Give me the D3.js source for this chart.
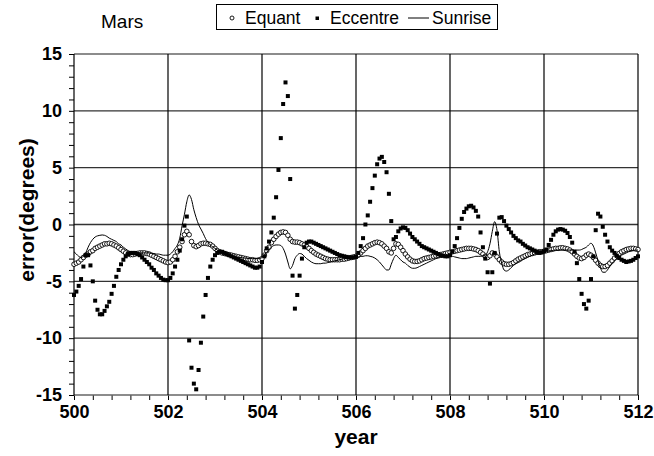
<!DOCTYPE html>
<html>
<head>
<meta charset="utf-8">
<script src="https://cdn.jsdelivr.net/npm/d3@7"></script>
<style>
  body { margin: 0; background: #fff; }
  svg { font-family: Arial, "Liberation Sans", sans-serif; }
</style>
</head>
<body>
<svg></svg>
<script>
// sampling of the three series: every 0.05 year from 500 to 512
var startYear = 500;
var stepYear = 0.05;

var equant = [
  -3.5,-3.4,-3.3,-3.1,-2.9,-2.7,-2.6,-2.4,-2.3,-2.1,-2.0,-1.9,-1.8,-1.7,-1.7,-1.65,-1.7,-1.8,-1.9,-2.05,
  -2.2,-2.35,-2.5,-2.6,-2.65,-2.65,-2.6,-2.55,-2.5,-2.5,-2.5,-2.55,-2.6,-2.7,-2.8,-2.9,-3.0,-3.1,-3.2,-3.3,
  -3.35,-3.3,-3.1,-2.8,-2.4,-2.0,-1.5,-0.9,-0.6,-0.9,-1.5,-1.85,-1.95,-1.85,-1.7,-1.65,-1.65,-1.7,-1.75,-1.9,
  -2.1,-2.3,-2.4,-2.5,-2.55,-2.6,-2.65,-2.7,-2.75,-2.8,-2.85,-2.9,-2.95,-3.0,-3.05,-3.1,-3.1,-3.15,-3.15,-3.1,
  -3.0,-2.7,-2.3,-2.0,-1.6,-1.3,-1.05,-0.85,-0.7,-0.65,-0.7,-0.95,-1.3,-1.5,-1.55,-1.55,-1.6,-1.7,-1.8,-1.95,
  -2.1,-2.3,-2.45,-2.6,-2.7,-2.8,-2.9,-3.0,-3.05,-3.1,-3.1,-3.1,-3.1,-3.1,-3.05,-3.05,-3.0,-2.95,-2.9,-2.85,
  -2.8,-2.7,-2.5,-2.3,-2.1,-1.9,-1.8,-1.7,-1.6,-1.55,-1.6,-1.7,-1.9,-2.1,-2.4,-2.5,-2.1,-1.7,-1.75,-2.0,
  -2.3,-2.6,-2.85,-3.05,-3.2,-3.25,-3.25,-3.2,-3.1,-3.0,-2.95,-2.9,-2.85,-2.8,-2.75,-2.7,-2.65,-2.6,-2.55,-2.5,
  -2.45,-2.4,-2.35,-2.3,-2.25,-2.2,-2.15,-2.1,-2.1,-2.1,-2.15,-2.2,-2.3,-2.45,-2.6,-2.8,-2.9,-2.75,-2.5,-2.6,
  -2.85,-3.1,-3.3,-3.45,-3.5,-3.5,-3.45,-3.35,-3.2,-3.05,-2.95,-2.85,-2.75,-2.65,-2.6,-2.55,-2.5,-2.45,-2.4,-2.4,
  -2.35,-2.3,-2.25,-2.2,-2.15,-2.1,-2.1,-2.05,-2.05,-2.1,-2.15,-2.25,-2.4,-2.6,-2.8,-2.95,-3.0,-2.9,-2.7,-2.6,
  -2.7,-2.9,-3.15,-3.4,-3.6,-3.7,-3.7,-3.6,-3.4,-3.2,-2.95,-2.75,-2.55,-2.4,-2.3,-2.2,-2.15,-2.1,-2.1,-2.15,
  -2.2
];

var eccentre = [
  -6.2,-5.9,-5.4,-4.8,-3.7,-2.7,-2.7,-3.6,-5.0,-6.7,-7.5,-7.9,-7.9,-7.6,-7.2,-6.8,-6.1,-5.4,-4.6,-4.0,
  -3.5,-3.1,-2.8,-2.6,-2.5,-2.5,-2.5,-2.6,-2.7,-2.9,-3.1,-3.3,-3.5,-3.8,-4.0,-4.3,-4.5,-4.7,-4.85,-4.9,
  -4.9,-4.7,-4.3,-3.7,-3.1,-2.3,-1.3,-0.1,0.7,-10.2,-12.6,-14.0,-14.5,-12.8,-10.4,-8.1,-6.2,-4.7,-3.7,-3.1,
  -2.7,-2.5,-2.4,-2.4,-2.5,-2.6,-2.7,-2.8,-2.9,-3.0,-3.1,-3.2,-3.3,-3.4,-3.5,-3.6,-3.7,-3.8,-3.8,-3.7,
  -3.3,-2.8,-2.1,-1.5,-0.7,0.6,2.4,4.8,7.6,10.6,12.5,11.3,4.0,-4.5,-7.4,-6.2,-4.5,-3.0,-2.0,-1.6,
  -1.5,-1.5,-1.6,-1.7,-1.8,-1.9,-2.0,-2.1,-2.2,-2.3,-2.4,-2.5,-2.6,-2.7,-2.75,-2.8,-2.85,-2.9,-2.9,-2.9,
  -2.85,-2.5,-1.9,-1.2,0.0,0.8,2.0,3.2,4.3,5.3,5.8,5.95,5.5,4.6,2.7,0.3,-1.3,-1.1,-0.6,-0.35,
  -0.25,-0.3,-0.5,-0.8,-1.1,-1.3,-1.5,-1.7,-1.9,-2.0,-2.1,-2.2,-2.3,-2.4,-2.5,-2.6,-2.7,-2.75,-2.8,-2.8,
  -2.7,-2.4,-1.9,-1.2,-0.3,0.5,1.1,1.4,1.6,1.65,1.5,1.2,0.7,-0.7,-2.0,-3.0,-4.2,-5.2,-4.2,-2.5,
  -0.8,0.6,0.65,0.3,-0.1,-0.4,-0.7,-1.0,-1.2,-1.4,-1.5,-1.7,-1.85,-2.0,-2.1,-2.2,-2.3,-2.4,-2.5,-2.45,
  -2.35,-2.2,-1.8,-1.35,-0.9,-0.6,-0.45,-0.4,-0.45,-0.55,-0.75,-1.1,-1.6,-2.4,-3.4,-4.8,-6.1,-7.0,-7.4,-6.7,
  -4.8,-2.8,-0.5,0.95,0.7,-0.2,-0.9,-1.5,-2.0,-2.3,-2.5,-2.75,-2.95,-3.1,-3.2,-3.3,-3.25,-3.2,-3.1,-2.95,
  -2.8
];

var sunrise = [
  -2.4,-2.6,-2.8,-2.9,-2.8,-2.5,-2.0,-1.6,-1.3,-1.1,-1.0,-0.95,-0.92,-0.95,-1.05,-1.2,-1.3,-1.4,-1.5,-1.7,
  -1.8,-2.0,-2.15,-2.3,-2.4,-2.45,-2.5,-2.5,-2.5,-2.5,-2.5,-2.5,-2.5,-2.55,-2.55,-2.6,-2.6,-2.65,-2.7,-2.7,
  -2.7,-2.6,-2.4,-2.1,-1.8,-1.2,-0.1,0.9,2.0,2.6,2.2,1.3,0.6,0.0,-0.4,-0.8,-1.25,-1.55,-1.8,-1.95,
  -2.1,-2.25,-2.4,-2.5,-2.6,-2.65,-2.7,-2.75,-2.8,-2.85,-2.9,-2.9,-2.95,-2.95,-3.0,-3.0,-3.0,-3.0,-3.0,-3.0,
  -2.9,-2.7,-2.45,-2.2,-2.0,-1.85,-1.8,-1.8,-1.85,-2.1,-2.6,-3.3,-3.9,-3.6,-3.0,-2.7,-2.55,-2.6,-2.8,-3.0,
  -3.15,-3.3,-3.4,-3.45,-3.45,-3.45,-3.4,-3.4,-3.35,-3.3,-3.25,-3.2,-3.15,-3.1,-3.05,-3.0,-3.0,-2.95,-2.95,-2.9,
  -2.9,-2.85,-2.8,-2.8,-2.75,-2.75,-2.8,-2.85,-2.95,-3.1,-3.3,-3.55,-3.8,-4.0,-4.0,-3.5,-3.0,-2.7,-2.9,-3.1,
  -3.3,-3.4,-3.6,-3.75,-3.85,-3.85,-3.8,-3.7,-3.6,-3.5,-3.4,-3.3,-3.2,-3.1,-3.0,-2.95,-2.9,-2.85,-2.8,-2.8,
  -2.8,-2.8,-2.85,-2.9,-2.95,-3.0,-3.0,-3.0,-2.95,-2.9,-2.85,-2.8,-2.8,-2.8,-2.75,-2.7,-2.4,-1.7,-0.6,0.25,
  -0.5,-2.4,-3.4,-4.0,-4.1,-4.0,-3.8,-3.6,-3.45,-3.35,-3.25,-3.1,-3.0,-2.9,-2.8,-2.7,-2.6,-2.55,-2.5,-2.45,
  -2.4,-2.4,-2.35,-2.3,-2.3,-2.25,-2.25,-2.25,-2.25,-2.25,-2.25,-2.25,-2.25,-2.25,-2.25,-2.25,-2.2,-2.1,-2.0,-1.8,
  -1.65,-1.9,-2.5,-3.2,-3.8,-4.2,-4.2,-4.0,-3.7,-3.4,-3.2,-3.0,-2.85,-2.7,-2.6,-2.5,-2.4,-2.35,-2.3,-2.25,
  -2.25
];

var xTicks = [500, 502, 504, 506, 508, 510, 512];
var yTicks = [-15, -10, -5, 0, 5, 10, 15];
var legendNames = ['Equant', 'Eccentre', 'Sunrise'];

document.addEventListener('DOMContentLoaded', () => {
    var width = 654;
    var height = 456;
    var left = 74, right = 638, top = 54, bottom = 395;

    var xScale = d3.scaleLinear().domain([500, 512]).range([left, right]);
    var yScale = d3.scaleLinear().domain([-15, 15]).range([bottom, top]);

    var yearOf = i => startYear + i * stepYear;

    var svg = d3.select('svg')
        .attr('width', width)
        .attr('height', height);

    // minor tick positions
    var xMinor = d3.range(0, 31).map(i => 500 + i * 0.4);
    var yMinor = d3.range(-15, 16, 1);

    // axes (ticks + labels only)
    var yAxis = d3.axisLeft(yScale)
        .tickValues(yMinor)
        .tickSize(5)
        .tickPadding(7)
        .tickFormat(d => yTicks.indexOf(d) >= 0 ? String(d) : '');

    var xAxis = d3.axisBottom(xScale)
        .tickValues(xMinor)
        .tickSize(5)
        .tickPadding(5)
        .tickFormat(d => {
            var r = Math.round(d);
            return (Math.abs(d - r) < 1e-6 && xTicks.indexOf(r) >= 0) ? String(r) : '';
        });

    var gy = svg.append('g')
        .attr('transform', 'translate(' + left + ',0)')
        .call(yAxis);
    var gx = svg.append('g')
        .attr('transform', 'translate(0,' + bottom + ')')
        .call(xAxis);

    [gx, gy].forEach(g => {
        g.select('.domain').remove();
        g.selectAll('.tick line').attr('stroke', '#000').attr('stroke-width', 1);
        g.selectAll('.tick text')
            .attr('fill', '#000')
            .style('font-family', 'Arial, "Liberation Sans", sans-serif')
            .style('font-weight', 'bold')
            .style('font-size', '18px');
    });

    // grid lines (also form the frame)
    svg.append('g').selectAll('line')
        .data(yTicks)
        .enter()
        .append('line')
            .attr('x1', left)
            .attr('x2', right)
            .attr('y1', d => yScale(d))
            .attr('y2', d => yScale(d))
            .attr('stroke', d => (d === 15 || d === -15) ? '#666' : '#333')
            .attr('stroke-width', 1.4);

    svg.append('g').selectAll('line')
        .data(xTicks)
        .enter()
        .append('line')
            .attr('x1', d => xScale(d))
            .attr('x2', d => xScale(d))
            .attr('y1', top)
            .attr('y2', bottom)
            .attr('stroke', '#000')
            .attr('stroke-width', 1.2);

    // Equant: open circles
    svg.append('g').selectAll('circle')
        .data(equant)
        .enter()
        .append('circle')
            .attr('cx', (d, i) => xScale(yearOf(i)))
            .attr('cy', d => yScale(d))
            .attr('r', 2.3)
            .attr('fill', '#fff')
            .attr('stroke', '#000')
            .attr('stroke-width', 0.9);

    // Eccentre: filled squares
    svg.append('g').selectAll('rect')
        .data(eccentre)
        .enter()
        .append('rect')
            .attr('x', (d, i) => xScale(yearOf(i)) - 2)
            .attr('y', d => yScale(d) - 2)
            .attr('width', 4)
            .attr('height', 4)
            .attr('fill', '#000');

    // Sunrise: thin line
    var line = d3.line()
        .x((d, i) => xScale(yearOf(i)))
        .y(d => yScale(d))
        .curve(d3.curveMonotoneX);

    svg.append('path')
        .datum(sunrise)
        .attr('d', line)
        .attr('fill', 'none')
        .attr('stroke', '#000')
        .attr('stroke-width', 1);

    // title
    svg.append('text')
        .text('Mars')
        .attr('x', 101)
        .attr('y', 28)
        .style('font-size', '19px');

    // legend
    var lg = svg.append('g');
    lg.append('rect')
        .attr('x', 216.5)
        .attr('y', 4.5)
        .attr('width', 281)
        .attr('height', 25)
        .attr('fill', '#fff')
        .attr('stroke', '#000')
        .attr('stroke-width', 1);
    lg.append('circle')
        .attr('cx', 232).attr('cy', 18).attr('r', 2)
        .attr('fill', '#fff').attr('stroke', '#000').attr('stroke-width', 0.9);
    lg.append('rect')
        .attr('x', 315.5).attr('y', 16.5).attr('width', 3.5).attr('height', 3.5)
        .attr('fill', '#000');
    lg.append('line')
        .attr('x1', 408).attr('x2', 429).attr('y1', 18).attr('y2', 18)
        .attr('stroke', '#000').attr('stroke-width', 1);
    lg.selectAll('text.leg')
        .data(legendNames)
        .enter()
        .append('text')
            .classed('leg', true)
            .text(d => d)
            .attr('x', (d, i) => [245, 330, 432][i])
            .attr('y', 24)
            .style('font-size', '17.5px');

    // axis titles
    svg.append('text')
        .text('year')
        .attr('text-anchor', 'middle')
        .attr('x', 356)
        .attr('y', 444)
        .style('font-weight', 'bold')
        .style('font-size', '21px');

    svg.append('text')
        .text('error(degrees)')
        .attr('text-anchor', 'middle')
        .attr('transform', 'translate(34,' + 210 + ') rotate(-90)')
        .style('font-weight', 'bold')
        .style('font-size', '21px');
})
</script>
</body>
</html>
